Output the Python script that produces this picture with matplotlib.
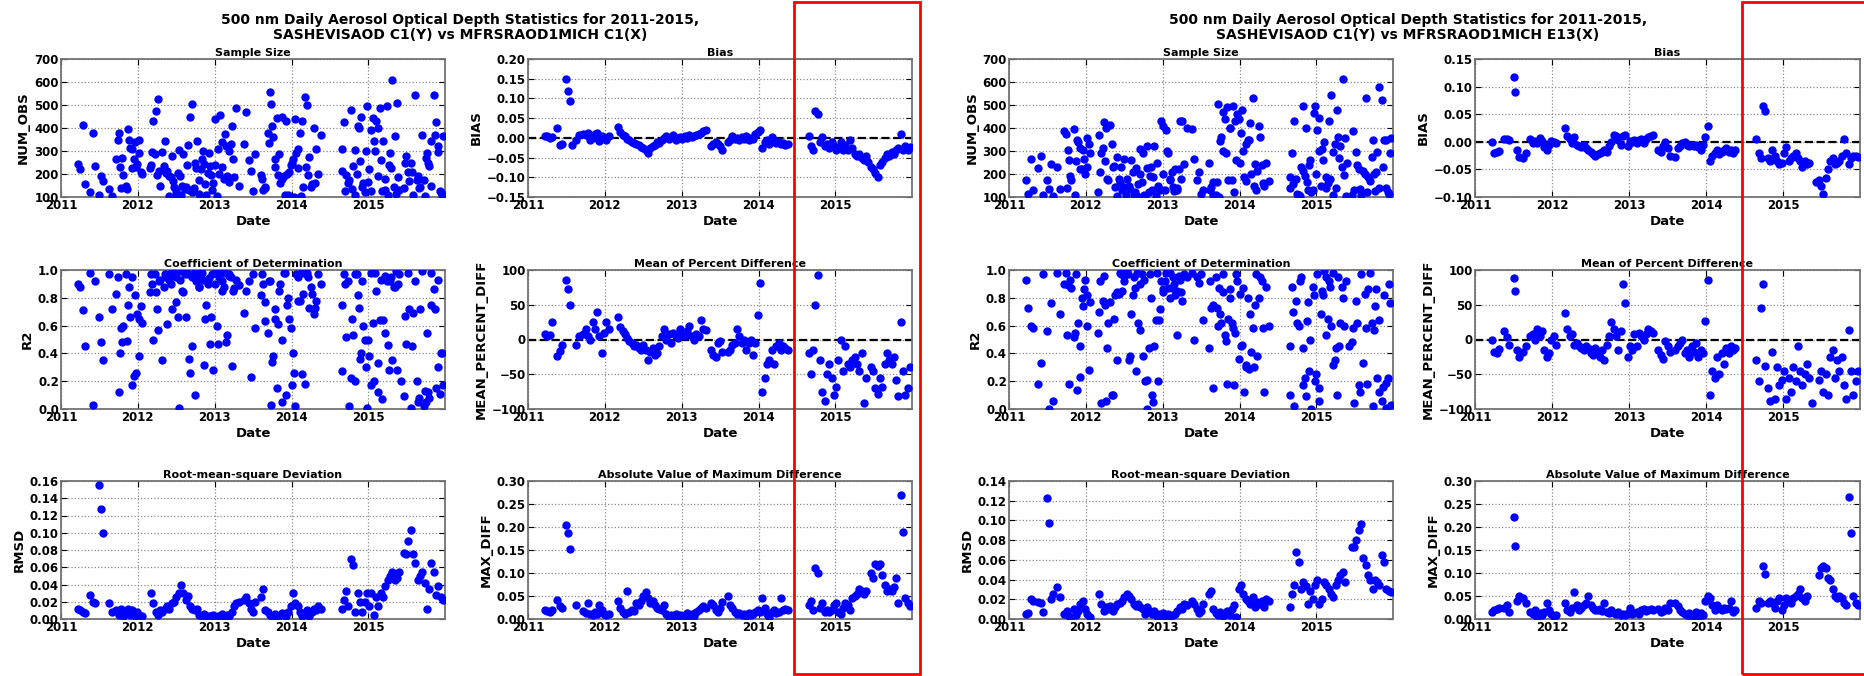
import numpy as np
import pandas as pd
import matplotlib
matplotlib.use('Agg')
import matplotlib.pyplot as plt
import matplotlib.dates as mdates
from matplotlib.ticker import MultipleLocator
from matplotlib.patches import Rectangle

nan = np.nan

### 1. data

# sample dates, decimal years (shared by every panel)
dates_dec = [
    2011.22, 2011.25, 2011.28, 2011.31,
    2011.38, 2011.41, 2011.44,
    2011.50, 2011.52, 2011.54, 2011.57,
    2011.62, 2011.66,
    2011.72, 2011.75, 2011.78, 2011.81, 2011.84, 2011.87, 2011.90, 2011.93, 2011.96, 2011.99, 2012.02, 2012.05,
    2012.17, 2012.20, 2012.23, 2012.26, 2012.29, 2012.32, 2012.35, 2012.38, 2012.41, 2012.44,
    2012.47, 2012.50, 2012.53, 2012.56, 2012.59, 2012.62, 2012.65, 2012.68, 2012.71, 2012.74,
    2012.77, 2012.80, 2012.83, 2012.86, 2012.89, 2012.92, 2012.95, 2012.98, 2013.01, 2013.04,
    2013.07, 2013.10, 2013.13, 2013.16, 2013.19, 2013.22, 2013.25, 2013.28, 2013.31,
    2013.38, 2013.41, 2013.44, 2013.47, 2013.50, 2013.53,
    2013.60, 2013.63, 2013.66, 2013.69, 2013.72, 2013.75, 2013.78, 2013.81, 2013.84, 2013.87,
    2013.90, 2013.93, 2013.96, 2013.99, 2014.02, 2014.05, 2014.08, 2014.11, 2014.14, 2014.17,
    2014.20, 2014.23, 2014.26, 2014.29, 2014.32, 2014.35, 2014.38,
    2014.65, 2014.68, 2014.71, 2014.74, 2014.77, 2014.80, 2014.83, 2014.86, 2014.89, 2014.92,
    2014.95, 2014.98, 2015.01, 2015.04, 2015.07, 2015.10, 2015.13, 2015.16, 2015.19, 2015.22,
    2015.25, 2015.28, 2015.31, 2015.34, 2015.37, 2015.40, 2015.43, 2015.46, 2015.49, 2015.52,
    2015.55, 2015.58, 2015.61, 2015.64, 2015.67, 2015.70, 2015.73, 2015.76, 2015.79, 2015.82,
    2015.85, 2015.88, 2015.91, 2015.94, 2015.97,
]

# more days for the scattered panels (sample size, R2)
extra_dec = [
    2011.74, 2011.77, 2011.80, 2011.86, 2011.89, 2011.92, 2011.95, 2011.98, 2012.01, 2012.04,
    2012.16, 2012.19, 2012.22, 2012.25, 2012.28, 2012.34, 2012.37, 2012.40, 2012.43, 2012.46,
    2012.49, 2012.52, 2012.55, 2012.58, 2012.61, 2012.64, 2012.67, 2012.70, 2012.73, 2012.76,
    2012.79, 2012.82, 2012.85, 2012.88, 2012.91, 2012.94, 2012.97, 2013.00, 2013.03, 2013.06,
    2013.09, 2013.12, 2013.15, 2013.18, 2013.21, 2013.24,
    2013.62, 2013.65, 2013.70, 2013.73, 2013.76, 2013.79, 2013.82, 2013.85, 2013.88, 2013.91,
    2013.94, 2013.97, 2014.00, 2014.03, 2014.06, 2014.09, 2014.12, 2014.15, 2014.19, 2014.22,
    2014.25, 2014.31,
    2014.66, 2014.70, 2014.75, 2014.79, 2014.82, 2014.85, 2014.88, 2014.90, 2014.93, 2014.97,
    2015.00, 2015.03, 2015.06, 2015.09, 2015.12, 2015.15, 2015.18, 2015.21, 2015.24, 2015.27,
    2015.30, 2015.33, 2015.36, 2015.39, 2015.48, 2015.53, 2015.57, 2015.63, 2015.66, 2015.72,
    2015.75, 2015.78, 2015.81, 2015.87, 2015.90, 2015.93, 2015.96,
]

# ---- MFRSRAOD1MICH C1 ----
num_obs_c1 = [
    245, 220, 415, 155,
    120, 380, 235,
    110, 190, 170, nan,
    135, 105,
    265, 380, 140, 195, 150, 395, 315, 225, 340, 245, 290, 200,
    240, 430, 475, 525, 150, 295, 345, 215, 190, 280,
    145, 125, 305, 110, 285, 145, 325, 450, 505, 250,
    345, 115, 265, 245, 110, 290, 195, 160, 440, 310,
    455, 340, 375, 190, 300, 410, 185, 485, 150,
    330, 470, 260, 215, 125, 285,
    195, 130, 140, 380, 555, 410, 230, 445, 285, 450,
    190, 430, 110, 240, 265, 440, 310, 380, 430, 535,
    500, 275, 155, 400, 310, 200, 370,
    310, 425, 195, 160, 480, 235, 305, 410, 255, 145,
    120, 495, 220, 390, 345, 430, 400, 260, 345, 130,
    110, 290, 610, 365, 510, 130, nan, 140, 280, 210,
    250, 110, 545, 190, 145, 370, 105, 290, 235, 345,
    545, 425, 295, 120, 365,
]
num_obs_c1_extra = [
    350, 230, 270, 135, 350, 310, 265, 230, 350, 210,
    225, 295, 285, 195, 215, 235, 205, 105, 185, 170,
    110, 205, 190, 150, 135, 240, 130, 120, 140, 225,
    175, 220, 300, 155, 205, 235, 130, 240, 105, 200,
    230, 180, 320, 165, 330, 265,
    180, 145, 335, 505, 360, 265, 195, 160, 180, 110,
    200, 210, 250, 100, 290, 225, 105, 145, 230, 195,
    145, 160,
    215, 125, 175, 135, 110, 200, 400, 450, 160, 300,
    165, 125, 445, 300, 190, 485, 125, 180, 495, 240,
    225, 145, 115, 185, 250, 170, 210, 175, 140, 175,
    270, 250, 150, 370, 320, 125, 110,
]
bias_c1 = [
    0.005, 0.005, 0.0, 0.002,
    0.025, -0.018, -0.015,
    0.15, 0.12, 0.093, -0.017,
    -0.005, 0.008,
    0.01, 0.008, 0.012, -0.005, 0.0, 0.01, 0.012, -0.008, 0.005, 0.0, -0.005, 0.005,
    0.028, 0.015, 0.008, 0.005, -0.002, -0.005, -0.01, -0.012, -0.015, -0.018,
    -0.022, -0.025, -0.032, -0.038, -0.025, -0.02, -0.018, -0.01, -0.012, -0.005,
    0.0, 0.005, -0.003, 0.002, 0.008, -0.005, 0.0, 0.003, -0.002, 0.005,
    0.0, 0.008, 0.002, 0.005, 0.008, 0.01, 0.012, 0.018, 0.02,
    -0.02, -0.015, -0.01, -0.015, -0.02, -0.032,
    -0.01, -0.005, 0.005, -0.003, 0.0, -0.005, 0.003, -0.002, 0.005, -0.005,
    0.0, -0.003, 0.01, 0.015, 0.02, -0.025, -0.01, -0.005, -0.015, 0.002,
    -0.008, -0.012, -0.01, -0.015, -0.012, -0.018, -0.015,
    0.005, -0.02, -0.03, 0.068, 0.06, -0.01, 0.003, -0.02, -0.015, -0.025,
    -0.01, -0.02, -0.03, -0.025, -0.01, -0.03, -0.018, -0.03, -0.005, -0.025,
    -0.04, -0.045, -0.04, -0.05, -0.055, -0.045, -0.06, -0.075, -0.08, -0.09,
    -0.1, -0.07, -0.06, -0.05, -0.04, -0.045, -0.035, -0.04, -0.03, -0.025,
    0.01, -0.03, -0.02, -0.03, -0.022,
]
r2_c1 = [
    0.9, 0.88, 0.71, 0.45,
    0.98, 0.03, 0.92,
    0.66, 0.48, 0.35, nan,
    0.97, 0.72,
    0.83, 0.12, 0.58, 0.6, 0.97, 0.75, 0.66, 0.17, 0.82, 0.68, 0.38, 0.62,
    0.97, 0.5, 0.84, 0.57, 0.93, 0.35, 0.97, 0.61, 0.93, 0.72,
    0.97, 0.77, 0.01, 0.99, 0.84, 0.66, 0.97, 0.26, 0.45, 0.1,
    0.95, 0.88, 0.98, 0.32, 0.75, 0.94, 0.66, 0.28, 0.9, 0.47,
    0.99, 0.85, 0.98, 0.53, 0.96, 0.31, 0.87, 0.93, 0.89,
    0.69, 0.85, 0.92, 0.23, 0.97, 0.58,
    0.82, 0.9, 0.77, 0.55, 0.92, 0.34, 0.72, 0.15, 0.85, 0.5,
    0.98, 0.1, 0.8, 0.58, 0.4, 0.02, 0.95, 0.78, 0.25, 0.18,
    0.98, 0.73, 0.83, 0.68, 0.78, 0.97, 0.9,
    0.27, 0.97, 0.52, 0.92, 0.22, 0.53, 0.97, 0.82, 0.36, 0.92,
    0.5, 0.01, 0.38, 0.98, 0.2, 0.85, 0.12, 0.93, 0.64, 0.96,
    0.46, 0.92, 0.35, 0.88, 0.28, 0.97, 0.2, 0.09, 0.47, 0.98,
    0.01, 0.69, 0.92, 0.05, 0.72, 0.99, 0.13, 0.55, 0.08, 0.75,
    0.86, 0.15, 0.93, 0.4, 0.17,
]
r2_c1_extra = [
    0.95, 0.4, 0.48, 0.49, 0.88, 0.95, 0.24, 0.26, 0.65, 0.74,
    0.84, 0.9, 0.97, 0.72, 0.92, 0.88, 0.95, 0.97, 0.9, 0.99,
    0.95, 0.66, 0.93, 0.85, 0.97, 0.98, 0.36, 0.95, 0.98, 0.92,
    0.88, 0.99, 0.93, 0.65, 0.9, 0.47, 0.97, 0.98, 0.6, 0.95,
    0.92, 0.88, 0.48, 0.97, 0.95, 0.85,
    0.97, 0.63, 0.92, 0.03, 0.38, 0.65, 0.61, 0.9, 0.05, 0.98,
    0.75, 0.65, 0.17, 0.26, 0.97, 0.78, 0.98, 0.83, 0.97, 0.95,
    0.88, 0.73,
    0.75, 0.9, 0.02, 0.65, 0.2, 0.97, 0.73, 0.4, 0.6, 0.3,
    0.5, 0.17, 0.62, 0.98, 0.33, 0.64, 0.07, 0.55, 0.92, 0.28,
    0.95, 0.88, 0.99, 0.9, 0.67, 0.72, 0.45, 0.2, 0.08, 0.02,
    0.05, 0.12, 0.98, 0.72, 0.3, 0.11, 0.4,
]
mpd_c1 = [
    8, 5, 7, 25,
    -24, -17, -8,
    85, 72, 50, nan,
    -8, 5,
    8, 15, 5, 0, 25, 15, 40, 5, -20, 10, 25, 15,
    32, 18, 12, 8, 2, -2, -5, -10, -8, -12,
    -15, -8, -15, -30, -18, -12, -22, -20, -10, 5,
    15, 0, 8, -5, 10, 5, 2, 15, 8, 5,
    12, 20, 5, 0, 8, 5, 28, 15, 14,
    -15, -22, -25, -5, -2, -18,
    -18, -15, -8, -5, 15, 5, -5, 0, -15, -5,
    0, -22, -5, 35, 82, -75, -55, -35, -30, -15,
    -35, -10, -5, -15, -10, -12, -15,
    -20, -50, -15, 50, 93, -30, -75, -88, -50, -35,
    -55, -80, -68, -30, 0, -45, -10, -35, -40, -30,
    -25, -35, -45, -20, -92, -55, nan, -40, -45, -70,
    -78, -55, -68, -35, -20, -30, -35, -25, -58, -82,
    25, -45, -80, -70, -40,
]
rmsd_c1 = [
    0.012, 0.01, 0.008, 0.007,
    0.028, 0.02, 0.018,
    0.155, 0.127, 0.1, nan,
    0.018, 0.008,
    0.01, 0.005, 0.012, 0.003, 0.008, 0.012, 0.005, 0.01, 0.003, 0.008, 0.005, 0.003,
    0.03, 0.018, 0.008, 0.005, 0.01, 0.008, 0.012, 0.015, 0.012, 0.018,
    0.02, 0.025, 0.03, 0.04, 0.03, 0.022, 0.027, 0.015, 0.012, 0.01,
    0.012, 0.005, 0.003, 0.006, 0.002, 0.004, 0.003, 0.005, 0.002, 0.004,
    0.003, 0.006, 0.003, 0.005, 0.004, 0.008, 0.015, 0.018, 0.02,
    0.022, 0.025, 0.018, 0.012, 0.008, 0.02,
    0.025, 0.035, 0.01, 0.008, 0.005, 0.003, 0.006, 0.004, 0.003, 0.007,
    0.005, 0.003, 0.008, 0.015, 0.03, 0.018, 0.015, 0.008, 0.003, 0.006,
    0.01, 0.004, 0.008, 0.012, 0.01, 0.015, 0.012,
    0.012, 0.022, 0.032, 0.015, 0.07, 0.063, 0.008, 0.03, 0.02, 0.008,
    0.02, 0.03, 0.015, 0.03, 0.005, 0.025, 0.015, 0.03, 0.025, 0.038,
    0.045, 0.05, 0.055, 0.045, 0.048, 0.055, nan, 0.076, 0.075, 0.09,
    0.103, 0.075, 0.065, 0.045, 0.05, 0.055, 0.042, 0.012, 0.035, 0.065,
    0.055, 0.028, 0.038, 0.025, 0.022,
]
maxdiff_c1 = [
    0.02, 0.018, 0.015, 0.02,
    0.042, 0.028, 0.025,
    0.205, 0.188, 0.153, nan,
    0.03, nan,
    0.018, 0.012, 0.035, 0.01, 0.008, 0.015, 0.01, 0.03, 0.02, 0.01, 0.008, 0.01,
    0.04, 0.025, 0.015, 0.01, 0.06, 0.015, 0.02, 0.018, 0.035, 0.03,
    0.04, 0.05, 0.058, 0.045, 0.035, 0.04, 0.03, 0.025, 0.022, 0.02,
    0.03, 0.01, 0.005, 0.008, 0.004, 0.01, 0.005, 0.008, 0.004, 0.008,
    0.012, 0.005, 0.01, 0.006, 0.015, 0.02, 0.025, 0.028, 0.025,
    0.035, 0.03, 0.02, 0.015, 0.025, 0.038,
    0.05, 0.03, 0.025, 0.015, 0.01, 0.012, 0.008, 0.01, 0.006, 0.012,
    0.008, 0.01, 0.015, 0.02, 0.015, 0.045, 0.025, 0.01, 0.005, 0.015,
    0.02, 0.012, 0.015, 0.045, 0.02, 0.022, 0.02,
    0.03, 0.04, 0.02, 0.11, 0.1, 0.025, 0.035, 0.015, 0.02, 0.015,
    0.02, 0.03, 0.035, 0.015, 0.01, 0.025, 0.035, 0.03, 0.02, 0.045,
    0.05, 0.055, 0.065, 0.06, 0.055, 0.06, nan, 0.1, 0.09, 0.12,
    0.115, 0.12, 0.095, 0.075, 0.06, 0.065, 0.06, 0.07, 0.09, 0.035,
    0.27, 0.19, 0.045, 0.035, 0.028,
]

# ---- MFRSRAOD1MICH E13 ----
num_obs_e13 = [
    175, 115, 265, 130,
    225, 280, 110,
    175, 135, 245, 105,
    230, 135,
    385, 140, 260, 175, 395, 255, 340, 220, 305, 200, 355, 290,
    370, 290, 425, 400, 175, 415, 230, 145, 275, 160,
    130, 265, 180, 150, 260, 110, 225, 155, 310, 290,
    105, 320, 190, 130, 320, 250, 135, 430, 410, 390,
    290, 180, 145, 220, 140, 430, 430, 245, 400,
    395, 265, 175, 210, 115, 130,
    250, 145, 165, 110, 505, 345, 470, 440, 490, 400,
    175, 120, 260, 440, 380, 300, 170, 350, 420, 530,
    245, 215, 360, 240, 150, 250, 170,
    185, 290, 430, 180, 110, 230, 495, 400, 130, 260,
    130, 495, 390, 445, 310, 340, 185, 430, 545, 295,
    140, 360, 320, 615, 355, 250, nan, 110, 130, 295,
    220, 110, 215, 530, 185, 170, 350, 125, 295, 580,
    520, 350, 140, 115, 355,
]
num_obs_e13_extra = [
    375, 305, 190, 110, 350, 315, 220, 265, 230, 330,
    120, 210, 315, 255, 180, 330, 235, 105, 180, 230,
    145, 110, 145, 135, 210, 120, 105, 200, 165, 110,
    225, 120, 230, 185, 105, 150, 130, 200, 130, 300,
    175, 210, 125, 130, 220, 180,
    130, 110, 165, 100, 360, 300, 290, 175, 400, 495,
    430, 460, 250, 480, 185, 330, 350, 200, 150, 130,
    410, 160,
    140, 155, 115, 105, 215, 190, 165, 240, 120, 465,
    200, 300, 150, 260, 140, 160, 180, 110, 330, 480,
    270, 230, 195, 105, 385, 240, 135, 200, 120, 275,
    200, 210, 140, 230, 350, 120, 290,
]
bias_e13 = [
    0.0, -0.02, -0.018, -0.017,
    0.005, 0.005, 0.004,
    0.118, 0.09, -0.015, -0.028,
    -0.03, -0.02,
    0.005, -0.003, 0.002, -0.002, 0.007, 0.002, -0.01, -0.015, -0.005, 0.002, 0.0, -0.003,
    0.025, 0.01, 0.005, -0.003, 0.008, -0.005, -0.008, -0.01, -0.005, -0.012,
    -0.015, -0.018, -0.022, -0.025, -0.023, -0.02, -0.018, -0.015, -0.018, -0.008,
    0.0, 0.012, 0.01, 0.003, -0.005, 0.01, 0.012, -0.008, 0.002, 0.0,
    0.003, -0.002, 0.004, 0.005, -0.003, 0.005, 0.008, 0.01, 0.013,
    -0.015, -0.018, -0.008, 0.0, -0.012, -0.025,
    -0.027, -0.012, -0.008, -0.003, 0.0, -0.005, -0.008, -0.005, -0.008, -0.005,
    -0.01, -0.015, -0.005, 0.008, 0.028, -0.035, -0.025, -0.02, -0.015, -0.022,
    -0.018, -0.015, -0.012, -0.018, -0.015, -0.02, -0.015,
    0.005, -0.02, -0.03, 0.065, 0.055, -0.03, -0.035, -0.015, -0.025, -0.035,
    -0.04, -0.038, -0.02, -0.01, -0.035, -0.03, -0.025, -0.02, -0.03, -0.035,
    -0.045, -0.035, -0.04, -0.038, nan, nan, -0.072, -0.07, -0.08, -0.095,
    -0.065, -0.05, -0.035, -0.03, -0.04, -0.038, -0.035, -0.025, 0.005, -0.02,
    -0.04, -0.03, -0.025, -0.025, -0.028,
]
r2_e13 = [
    0.93, 0.73, 0.6, 0.58,
    0.18, 0.33, 0.97,
    0.56, 0.0, 0.76, 0.06,
    0.98, 0.68,
    0.9, 0.53, 0.18, 0.87, 0.52, 0.97, 0.62, 0.23, 0.74, 0.93, 0.6, 0.77,
    0.7, 0.04, 0.96, 0.06, 0.62, 0.77, 0.1, 0.82, 0.35, 0.98,
    0.85, 0.96, 0.99, 0.35, 0.68, 0.95, 0.27, 0.62, 0.9, 0.38,
    0.2, 0.0, 0.97, 0.1, 0.45, 0.98, 0.64, 0.92, 0.84, 0.98,
    0.87, 0.8, 0.95, 0.82, 0.53, 0.93, 0.78, 0.97, 0.95,
    0.98, 0.5, 0.95, 0.91, 0.97, 0.64,
    0.44, 0.73, 0.15, 0.95, 0.6, 0.68, 0.97, 0.53, 0.18, 0.86,
    0.62, 0.17, 0.97, 0.36, 0.45, 0.87, 0.3, 0.8, 0.68, 0.58,
    0.75, 0.38, 0.95, 0.92, 0.12, 0.88, 0.6,
    0.45, 0.88, 0.02, 0.78, 0.6, 0.95, 0.44, 0.09, 0.77, 0.5,
    0.88, 0.2, 0.97, 0.06, 0.85, 0.99, 0.53, 0.92, 0.6, 0.98,
    0.44, 0.95, 0.62, 0.8, nan, nan, 0.45, 0.48, 0.04, 0.78,
    0.17, 0.97, 0.33, 0.58, 0.86, 0.98, 0.02, 0.74, 0.22, 0.64,
    0.06, 0.82, 0.19, 0.9, 0.03,
]
r2_e13_extra = [
    0.98, 0.89, 0.93, 0.55, 0.14, 0.45, 0.8, 0.86, 0.82, 0.28,
    0.55, 0.92, 0.78, 0.75, 0.44, 0.1, 0.65, 0.84, 0.83, 0.97,
    0.92, 0.98, 0.97, 0.38, 0.82, 0.87, 0.98, 0.57, 0.97, 0.93,
    0.21, 0.44, 0.8, 0.05, 0.64, 0.2, 0.72, 0.86, 0.92, 0.99,
    0.98, 0.87, 0.9, 0.85, 0.96, 0.84,
    0.92, 0.75, 0.73, 0.87, 0.62, 0.84, 0.49, 0.65, 0.8, 0.58,
    0.55, 0.92, 0.83, 0.46, 0.12, 0.32, 0.29, 0.41, 0.3, 0.97,
    0.8, 0.58,
    0.1, 0.7, 0.62, 0.92, 0.17, 0.22, 0.63, 0.27, 0.0, 0.82,
    0.25, 0.15, 0.68, 0.82, 0.95, 0.65, 0.88, 0.32, 0.35, 0.1,
    0.45, 0.88, 0.6, 0.92, 0.58, 0.62, 0.12, 0.83, 0.18, 0.62,
    0.57, 0.86, 0.12, 0.16, 0.01, 0.22, 0.76,
]
mpd_e13 = [
    0, -18, -20, -13,
    12, 3, -8,
    88, 70, -15, -25,
    -18, -10,
    5, 8, 0, 15, 5, 12, -15, -25, -20, 0, 5, -8,
    38, 15, 5, 8, -8, -5, -10, -12, -15, -10,
    -12, -20, -22, -12, -18, -25, -15, -30, -8, 5,
    25, 15, 5, -15, 12, 80, 52, -25, -10, -15,
    8, -10, 10, 5, 0, 8, 15, 12, 10,
    -15, -22, -28, -2, -10, -18,
    -15, -10, -5, 0, -20, -15, -25, -10, -18, -5,
    -25, -15, -20, 27, 85, -80, -45, -55, -25, -50,
    -20, -35, -12, -20, -10, -15, -12,
    -30, -60, 45, 80, -38, -70, -88, -18, -85, -40,
    -65, -58, -45, -85, -55, -75, -40, -60, -10, -45,
    -65, -50, -35, -55, -92, nan, nan, -58, -45, -75,
    -50, -80, -25, -15, -55, -30, -45, -25, -65, -85,
    13, -45, -80, -60, -45,
]
rmsd_e13 = [
    0.005, 0.006, 0.02, 0.018,
    0.017, 0.016, 0.007,
    0.123, 0.097, 0.02, 0.025,
    0.032, 0.022,
    0.005, 0.008, 0.003, 0.002, 0.01, 0.004, 0.008, 0.015, 0.018, 0.01, 0.005, 0.002,
    0.025, 0.015, 0.008, 0.012, 0.01, 0.013, 0.008, 0.012, 0.015, 0.016,
    0.018, 0.022, 0.025, 0.023, 0.02, 0.015, 0.013, 0.015, 0.012, 0.01,
    0.005, 0.012, 0.008, 0.005, 0.008, 0.003, 0.005, 0.003, 0.006, 0.002,
    0.005, 0.003, 0.004, 0.005, 0.008, 0.012, 0.01, 0.015, 0.014,
    0.018, 0.015, 0.01, 0.006, 0.008, 0.015,
    0.025, 0.028, 0.01, 0.006, 0.004, 0.007, 0.003, 0.005, 0.008, 0.004,
    0.01, 0.014, 0.002, 0.03, 0.035, 0.025, 0.02, 0.018, 0.015, 0.022,
    0.012, 0.017, 0.015, 0.018, 0.012, 0.02, 0.018,
    0.012, 0.025, 0.035, 0.068, 0.058, 0.03, 0.038, 0.033, 0.015, 0.028,
    0.02, 0.035, 0.04, 0.015, 0.02, 0.038, 0.035, 0.03, 0.025, 0.022,
    0.035, 0.04, 0.045, 0.048, 0.038, nan, nan, 0.073, 0.073, 0.08,
    0.09, 0.096, 0.062, 0.055, 0.045, 0.04, 0.03, 0.04, 0.038, 0.035,
    0.065, 0.058, 0.03, 0.028, 0.027,
]
maxdiff_e13 = [
    0.015, 0.02, 0.022, 0.025,
    0.025, 0.03, 0.015,
    0.222, 0.158, 0.04, 0.05,
    0.045, 0.035,
    0.015, 0.01, 0.02, 0.005, 0.012, 0.008, 0.015, 0.035, 0.02, 0.01, 0.005, 0.008,
    0.035, 0.02, 0.015, 0.025, 0.058, 0.03, 0.02, 0.025, 0.03, 0.035,
    0.05, 0.03, 0.025, 0.02, 0.02, 0.022, 0.018, 0.035, 0.015, 0.012,
    0.02, 0.012, 0.01, 0.015, 0.008, 0.01, 0.008, 0.012, 0.025, 0.01,
    0.012, 0.015, 0.01, 0.02, 0.022, 0.018, 0.02, 0.022, 0.02,
    0.022, 0.015, 0.018, 0.025, 0.02, 0.035,
    0.035, 0.028, 0.02, 0.015, 0.01, 0.008, 0.012, 0.005, 0.01, 0.015,
    0.005, 0.012, 0.008, 0.04, 0.05, 0.045, 0.03, 0.02, 0.03, 0.025,
    0.02, 0.025, 0.022, 0.025, 0.04, 0.015, 0.02,
    0.025, 0.04, 0.035, 0.115, 0.097, 0.035, 0.04, 0.035, 0.025, 0.04,
    0.045, 0.02, 0.03, 0.045, 0.04, 0.035, 0.045, 0.05, 0.055, 0.065,
    0.045, 0.04, 0.05, nan, nan, nan, nan, 0.095, 0.11, 0.115,
    0.11, 0.09, 0.085, 0.065, 0.05, 0.045, 0.05, 0.045, 0.035, 0.03,
    0.265, 0.188, 0.05, 0.035, 0.03,
]

suptitles = [
    '500 nm Daily Aerosol Optical Depth Statistics for 2011-2015,\nSASHEVISAOD C1(Y) vs MFRSRAOD1MICH C1(X)',
    '500 nm Daily Aerosol Optical Depth Statistics for 2011-2015,\nSASHEVISAOD C1(Y) vs MFRSRAOD1MICH E13(X)',
]
panel_titles = ['Sample Size', 'Bias', 'Coefficient of Determination',
                'Mean of Percent Difference', 'Root-mean-square Deviation',
                'Absolute Value of Maximum Difference']
panel_ylabels = ['NUM_OBS', 'BIAS', 'R2', 'MEAN_PERCENT_DIFF', 'RMSD', 'MAX_DIFF']

### 2. helpers

plt.rcParams['font.family'] = ['DejaVu Sans']
plt.rcParams['font.weight'] = 'bold'
plt.rcParams['axes.titleweight'] = 'bold'
plt.rcParams['axes.labelweight'] = 'bold'

W, H = 1865, 676


def to_dates(dec):
    return pd.to_datetime('2011-01-01') + pd.to_timedelta((np.array(dec) - 2011) * 365.25, unit='D')


dates = to_dates(dates_dec)
extra_dates = to_dates(extra_dec)


def px_axes(fig, x0, y0, x1, y1):
    # pixel box (top-left origin) -> figure axes
    return fig.add_axes([x0 / W, 1 - y1 / H, (x1 - x0) / W, (y1 - y0) / H])


def draw_panel(ax, values, extra, title, ylabel, ylim, ystep, zero_line=False):
    ax.plot(dates, values, 'o', color='blue', mec='blue', ms=5, zorder=3)
    if extra is not None:
        ax.plot(extra_dates, extra, 'o', color='blue', mec='blue', ms=5, zorder=3)
    if zero_line:
        ax.axhline(0, color='k', ls='--', lw=1.6, zorder=2)
    ax.set_xlim(pd.Timestamp('2011-01-01'), pd.Timestamp('2015-12-31'))
    ax.xaxis.set_major_locator(mdates.YearLocator())
    ax.xaxis.set_major_formatter(mdates.DateFormatter('%Y'))
    ax.set_ylim(*ylim)
    ax.yaxis.set_major_locator(MultipleLocator(ystep))
    ax.grid(True, ls=':', color='0.55', lw=0.9)
    ax.tick_params(direction='in', top=True, right=True, length=4, width=0.8,
                   labelsize=8.5, pad=1.5)
    for s in ax.spines.values():
        s.set_color('0.45')
        s.set_linewidth(1.3)
    ax.set_title(title, fontsize=8, pad=2)
    ax.set_xlabel('Date', fontsize=9.5, labelpad=2)
    ax.set_ylabel(ylabel, fontsize=9.5, labelpad=3)


### 3. figure

fig = plt.figure(figsize=(W / 100, H / 100), dpi=100)

cols = [[(61, 445), (528, 912)], [(1009, 1393), (1475, 1860)]]
rows = [(59, 197), (270, 409), (481, 619)]
centers = [460, 1408]

series = [
    [num_obs_c1, bias_c1, r2_c1, mpd_c1, rmsd_c1, maxdiff_c1],
    [num_obs_e13, bias_e13, r2_e13, mpd_e13, rmsd_e13, maxdiff_e13],
]
extras = [
    [num_obs_c1_extra, None, r2_c1_extra, None, None, None],
    [num_obs_e13_extra, None, r2_e13_extra, None, None, None],
]
ylims = [
    [((100, 700), 100), ((-0.15, 0.20), 0.05), ((0, 1.0), 0.2), ((-100, 100), 50),
     ((0, 0.16), 0.02), ((0, 0.30), 0.05)],
    [((100, 700), 100), ((-0.10, 0.15), 0.05), ((0, 1.0), 0.2), ((-100, 100), 50),
     ((0, 0.14), 0.02), ((0, 0.30), 0.05)],
]

for f in range(2):
    fig.text(centers[f] / W, 1 - 13 / H, suptitles[f], ha='center', va='top',
             fontsize=10, fontweight='bold', linespacing=1.05)
    for i in range(6):
        r, c = i // 2, i % 2
        x0, x1 = cols[f][c]
        y0, y1 = rows[r]
        ax = px_axes(fig, x0, y0, x1, y1)
        lim, step = ylims[f][i]
        draw_panel(ax, series[f][i], extras[f][i], panel_titles[i], panel_ylabels[i],
                   lim, step, zero_line=(i in (1, 3)))

# red highlight boxes
for (bx0, bx1) in [(794, 920), (1742, 1872)]:
    fig.patches.append(Rectangle((bx0 / W, 2 / H), (bx1 - bx0) / W, 672 / H,
                                 transform=fig.transFigure, fill=False,
                                 edgecolor='red', lw=2))

fig.savefig('out.png', dpi=100)
